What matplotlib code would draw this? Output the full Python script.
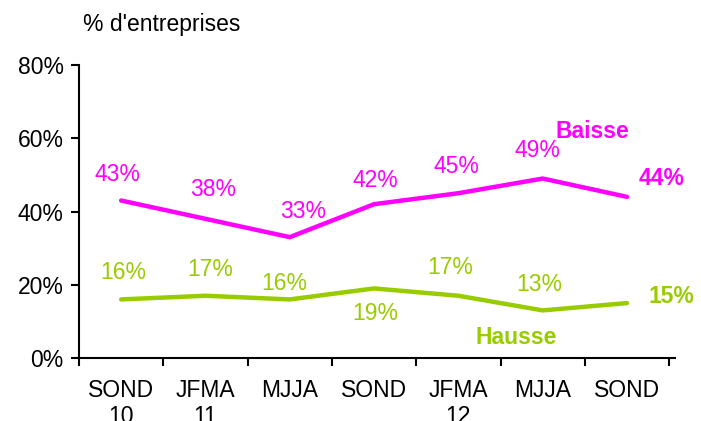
import matplotlib
matplotlib.use("Agg")
import matplotlib.pyplot as plt
from matplotlib.ticker import FixedLocator, FuncFormatter

plt.rcParams['font.family'] = ['Liberation Sans', 'DejaVu Sans']

categories = ["SOND\n10", "JFMA\n11", "MJJA", "SOND", "JFMA\n12", "MJJA", "SOND"]
baisse = [43, 38, 33, 42, 45, 49, 44]
hausse = [16, 17, 16, 19, 17, 13, 15]
yticks = [0, 20, 40, 60, 80]

baisse_offsets = [(-4, 26), (8, 29), (13, 26), (1, 24), (-2, 27), (-5, 28), (35, 18)]
hausse_offsets = [(2, 27), (5, 26), (-6, 16), (1, -25), (-8, 28), (-3, 26), (44, 7)]

MAG = "#FF00FF"
GRN = "#99CC00"
FS = 16.5

fig = plt.figure(figsize=(7.01, 4.21), dpi=100)
ax = fig.add_axes([0.1127, 0.1496, 0.963 - 0.1127, 0.8456 - 0.1496])

x = list(range(len(categories)))
ax.plot(x, baisse, color=MAG, lw=3.2, solid_joinstyle='miter', solid_capstyle='round')
ax.plot(x, hausse, color=GRN, lw=3.2, solid_joinstyle='miter', solid_capstyle='round')

n = len(categories)
for i, v in enumerate(baisse):
    bold = i == n - 1
    ax.annotate(f"{v}%", (i, v), xytext=baisse_offsets[i], textcoords='offset pixels',
                ha='center', va='center', color=MAG, fontsize=FS,
                fontweight='bold' if bold else 'normal')
for i, v in enumerate(hausse):
    bold = i == n - 1
    ax.annotate(f"{v}%", (i, v), xytext=hausse_offsets[i], textcoords='offset pixels',
                ha='center', va='center', color=GRN, fontsize=FS,
                fontweight='bold' if bold else 'normal')

ax.text(5.59, 61.9, "Baisse", color=MAG, fontsize=FS, fontweight='bold', ha='center', va='center')
ax.text(4.69, 5.5, "Hausse", color=GRN, fontsize=FS, fontweight='bold', ha='center', va='center')

ax.set_xlim(-0.5, n - 0.5 + 0.07)
ax.set_ylim(0, 80)
ax.set_yticks(yticks)
ax.yaxis.set_major_formatter(FuncFormatter(lambda v, p: f"{int(v)}%"))
ax.tick_params(axis='y', direction='out', length=6, width=1.5, labelsize=FS, pad=5, colors='black')

ax.set_xticks(x)
ax.set_xticklabels(categories, fontsize=FS, linespacing=1.2, va='top')
ax.xaxis.set_minor_locator(FixedLocator([i - 0.5 for i in range(n + 1)]))
ax.tick_params(axis='x', which='major', length=0, pad=15)
ax.tick_params(axis='x', which='minor', direction='out', length=6, width=1.5)

for s in ['top', 'right']:
    ax.spines[s].set_visible(False)
for s in ['left', 'bottom']:
    ax.spines[s].set_linewidth(1.5)

fig.text(162 / 701, 1 - 25 / 421, "% d'entreprises", fontsize=FS, ha='center', va='center')

fig.savefig("out.png", dpi=100)
